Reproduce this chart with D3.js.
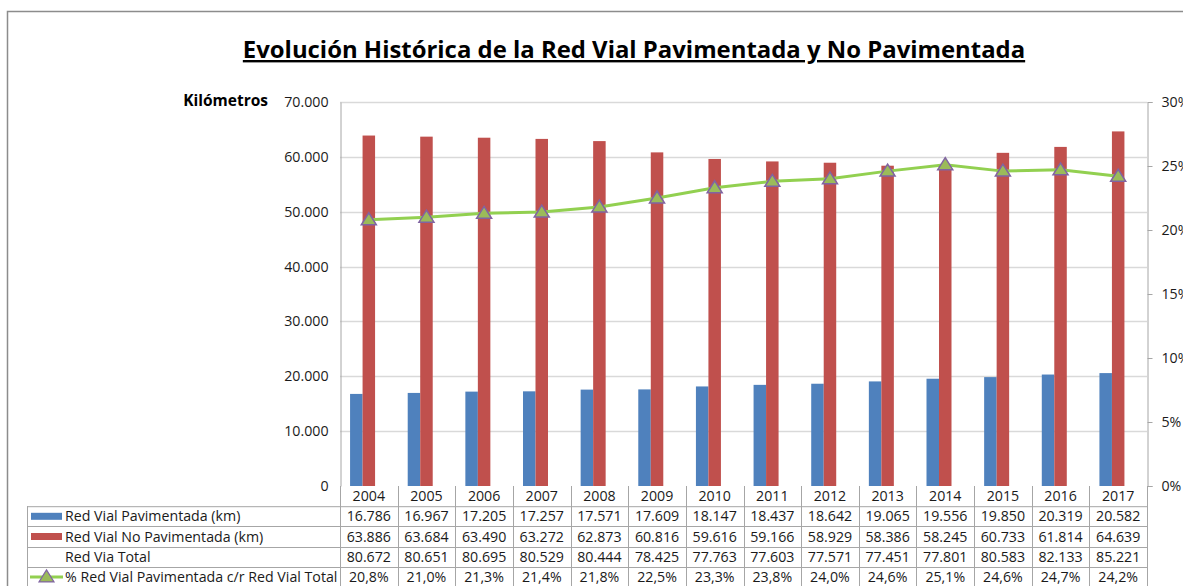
<!DOCTYPE html>
<html><head><meta charset="utf-8">
<script src="https://cdn.jsdelivr.net/npm/d3@7"></script>
<style>body{margin:0;background:#fff}svg{display:block}text{font-family:"Open Sans",sans-serif}</style>
</head><body><svg id="c" width="1183" height="586"></svg>
<script>
const years = ["2004","2005","2006","2007","2008","2009","2010","2011","2012","2013","2014","2015","2016","2017"];
const paved = [16786,16967,17205,17257,17571,17609,18147,18437,18642,19065,19556,19850,20319,20582];
const unpaved = [63886,63684,63490,63272,62873,60816,59616,59166,58929,58386,58245,60733,61814,64639];
const total = [80672,80651,80695,80529,80444,78425,77763,77603,77571,77451,77801,80583,82133,85221];
const pct = [20.8,21.0,21.3,21.4,21.8,22.5,23.3,23.8,24.0,24.6,25.1,24.6,24.7,24.2];
const leftTicks = [0,10000,20000,30000,40000,50000,60000,70000];
const rightTicks = [0,5,10,15,20,25,30];
const rowLabels = ["Red Vial Pavimentada (km)","Red Vial No Pavimentada (km)","Red Via Total","% Red Vial Pavimentada c/r Red Vial Total"];

const loc = d3.formatLocale({decimal:",",thousands:".",grouping:[3],currency:["$",""]});
const fInt = loc.format(",d");
const fPct = v => loc.format(".1f")(v) + "%";

const svg = d3.select("#c");
const L=340, R=1147, T=102, B=486;
const x = d3.scaleBand().domain(years).range([L,R]).padding(0);
const y = d3.scaleLinear().domain([0,70000]).range([B,T]);
const y2 = d3.scaleLinear().domain([0,30]).range([B,T]);
const grid = "#d9d9d9", tcol="#a6a6a6";
const FS = 14.2, TX = "#1a1a1a";

// outer border
svg.append("path").attr("d","M7.5,586 V11.5 H1183").attr("fill","none").attr("stroke","#8c8c8c").attr("stroke-width",1.5);

// title
svg.append("text").attr("x",634).attr("y",58).attr("text-anchor","middle")
  .attr("font-size",23.9).attr("font-weight","bold").attr("fill","#000")
  .attr("text-decoration","underline")
  .text("Evolución Histórica de la Red Vial Pavimentada y No Pavimentada");
svg.append("text").attr("x",268).attr("y",106).attr("text-anchor","end")
  .attr("font-size",15.5).attr("font-weight","bold").text("Kilómetros");

// gridlines
svg.append("g").selectAll("line").data(leftTicks.filter(d=>d>0)).join("line")
  .attr("x1",L).attr("x2",R).attr("y1",d=>Math.round(y(d))+0.5).attr("y2",d=>Math.round(y(d))+0.5)
  .attr("stroke",grid).attr("stroke-width",1.3);
// left axis
const gl = svg.append("g").attr("transform",`translate(${L+0.5},0)`)
  .call(d3.axisLeft(y).tickValues(leftTicks).tickFormat(fInt).tickSize(0).tickPadding(12));
gl.select(".domain").attr("stroke",tcol);
gl.selectAll("text").attr("font-size",FS).attr("fill",TX).attr("font-family","'Open Sans',sans-serif");
// right axis
const gr = svg.append("g").attr("transform",`translate(${R+0.5},0)`)
  .call(d3.axisRight(y2).tickValues(rightTicks).tickFormat(d=>d+"%").tickSize(5).tickPadding(9));
gr.select(".domain").attr("stroke",tcol);
gr.selectAll("line").attr("stroke",tcol);
gr.selectAll("text").attr("font-size",FS).attr("fill",TX).attr("font-family","'Open Sans',sans-serif");

// bars
const bw = 12.5;
svg.append("g").selectAll("rect").data(years).join("rect")
  .attr("x",(d)=>x(d)+x.bandwidth()/2-bw*1.5).attr("width",bw)
  .attr("y",(d,i)=>y(paved[i])).attr("height",(d,i)=>B-y(paved[i]))
  .attr("fill","#4f81bd");
svg.append("g").selectAll("rect").data(years).join("rect")
  .attr("x",(d)=>x(d)+x.bandwidth()/2-bw/2).attr("width",bw)
  .attr("y",(d,i)=>y(unpaved[i])).attr("height",(d,i)=>B-y(unpaved[i]))
  .attr("fill","#c0504d");

// line
const cx = d=>x(d)+x.bandwidth()/2;
svg.append("path").datum(years).attr("fill","none").attr("stroke","#92d050").attr("stroke-width",3)
  .attr("d",d3.line().x(cx).y((d,i)=>y2(pct[i])));
const tri = (px,py)=>`M${px},${py-7} L${px+7.5},${py+5} L${px-7.5},${py+5} Z`;
svg.append("g").selectAll("path").data(years).join("path")
  .attr("d",(d,i)=>tri(cx(d),y2(pct[i])))
  .attr("fill","#9bbb59").attr("stroke","#8064a2").attr("stroke-width",1.5);

// table
const tb = svg.append("g");
const rowH = 20.2, hTop = B, tLeft = 27;
const rowsTop = hTop+rowH;
const lineC = "#a6a6a6";
tb.append("line").attr("x1",tLeft).attr("x2",R).attr("y1",rowsTop+0.5).attr("y2",rowsTop+0.5).attr("stroke",lineC);
for(let r=1;r<=4;r++){
  const yy = Math.round(rowsTop+r*rowH)+0.5;
  tb.append("line").attr("x1",tLeft).attr("x2",R).attr("y1",yy).attr("y2",yy).attr("stroke",lineC);
}
tb.append("line").attr("x1",tLeft+0.5).attr("x2",tLeft+0.5).attr("y1",rowsTop).attr("y2",586).attr("stroke",lineC);
years.concat(["end"]).forEach((d,i)=>{
  const xx = Math.round(L+i*x.bandwidth())+0.5;
  tb.append("line").attr("x1",xx).attr("x2",xx).attr("y1",hTop).attr("y2",586).attr("stroke",lineC);
});
tb.selectAll("text.yr").data(years).join("text").attr("class","yr")
  .attr("x",cx).attr("y",hTop+rowH/2+5).attr("text-anchor","middle").attr("font-size",FS).attr("fill",TX).text(d=>d);
const rows = [paved.map(fInt), unpaved.map(fInt), total.map(fInt), pct.map(fPct)];
rows.forEach((vals,r)=>{
  const yc = rowsTop + r*rowH + rowH/2;
  tb.append("g").selectAll("text").data(years).join("text")
    .attr("x",cx).attr("y",yc+5).attr("text-anchor","middle").attr("font-size",FS).attr("fill",TX)
    .text((d,i)=>vals[i]);
  tb.append("text").attr("x",65).attr("y",yc+5).attr("font-size",FS).attr("fill",TX).text(rowLabels[r]);
});
// legend keys
const k0 = rowsTop + rowH/2;
tb.append("rect").attr("x",31).attr("y",k0-3.5).attr("width",31).attr("height",7).attr("fill","#4f81bd");
tb.append("rect").attr("x",31).attr("y",k0+rowH-3.5).attr("width",31).attr("height",7).attr("fill","#c0504d");
const k3 = rowsTop + 3*rowH + rowH/2;
tb.append("line").attr("x1",30).attr("x2",63).attr("y1",k3).attr("y2",k3).attr("stroke","#92d050").attr("stroke-width",3);
tb.append("path").attr("d",tri(46.5,k3)).attr("fill","#9bbb59").attr("stroke","#8064a2").attr("stroke-width",1.2);
</script></body></html>
